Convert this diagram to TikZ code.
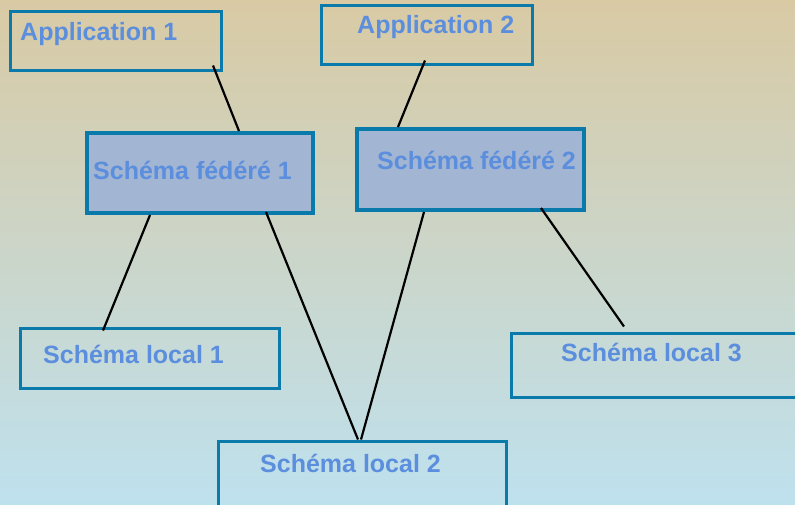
\documentclass[tikz,border=0pt]{standalone}
\usepackage{fontspec}
\setmainfont{Liberation Sans}
\usepackage{xcolor}
\usepackage{tikz}
\definecolor{boxline}{RGB}{10,122,170}
\definecolor{boxtext}{RGB}{92,142,222}
\definecolor{fedfill}{RGB}{162,181,210}
\definecolor{bgtop}{RGB}{217,202,164}
\definecolor{bgbottom}{RGB}{190,225,238}
\tikzset{
    Box/.style = {draw=boxline,line width=3pt,inner sep=0pt},
    FedBox/.style = {Box,line width=4pt,fill=fedfill},
    Label/.style = {anchor=base west,inner sep=0pt,text=boxtext,
        font=\fontsize{25}{29}\selectfont\bfseries},
    Link/.style = {line width=2.2pt}
}

\begin{document}
\begin{tikzpicture}[x=1pt,y=-1pt]
        \shade[top color=bgtop,bottom color=bgbottom] (0,0) rectangle (795,504);
        \useasboundingbox (0,0) rectangle (795,504);
        % boxes
        \node[Box,minimum width=211,minimum height=59] (app1) at (115.5,40.5) {};
        \node[Box,minimum width=211,minimum height=59] (app2) at (426.5,34.5) {};
        \node[FedBox,minimum width=226,minimum height=80] (fed1) at (200,173) {};
        \node[FedBox,minimum width=227,minimum height=81] (fed2) at (470.5,169.5) {};
        \node[Box,minimum width=259,minimum height=60] (loc1) at (149.5,358) {};
        \node[Box,minimum width=288,minimum height=66] (loc2) at (362,474) {};
        \node[Box,minimum width=288,minimum height=64] (loc3) at (655,365) {};
        % texts
        \node[Label] (tapp1) at (20,40.5) {Application 1};
        \node[Label] (tapp2) at (357,33) {Application 2};
        \node[Label] (tfed1) at (93,179) {Schéma fédéré 1};
        \node[Label] (tfed2) at (377,169) {Schéma fédéré 2};
        \node[Label] (tloc1) at (43,363) {Schéma local 1};
        \node[Label] (tloc2) at (260,472) {Schéma local 2};
        \node[Label] (tloc3) at (561,361) {Schéma local 3};
        % links
        \draw[Link] ([shift={(97.5,-6)}]app1.south) -- ([shift={(39,0)}]fed1.north);
        \draw[Link] ([shift={(-1.5,-5)}]app2.south) -- ([shift={(-72.5,0)}]fed2.north);
        \draw[Link] ([shift={(-50,0)}]fed1.south) -- ([shift={(-46.5,4)}]loc1.north);
        \draw[Link] ([shift={(66,-3)}]fed1.south) -- ([shift={(-4,0)}]loc2.north);
        \draw[Link] ([shift={(-46.5,0)}]fed2.south) -- ([shift={(-1,0)}]loc2.north);
        \draw[Link] ([shift={(70.5,-4)}]fed2.south) -- ([shift={(-31,-5)}]loc3.north);
\end{tikzpicture}
\end{document}
